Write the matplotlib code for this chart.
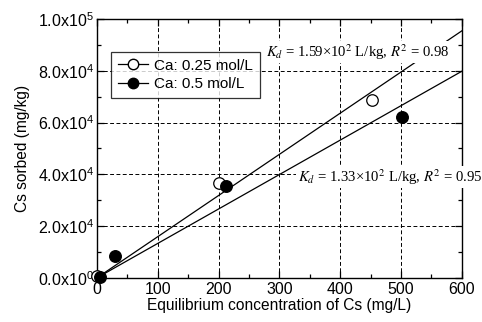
import matplotlib
matplotlib.use("Agg")
import matplotlib.pyplot as plt
import numpy as np
from matplotlib.lines import Line2D
from matplotlib.ticker import MultipleLocator, FixedLocator

plt.rcParams['font.family'] = ['Liberation Sans', 'DejaVu Sans']
plt.rcParams['mathtext.fontset'] = 'custom'
plt.rcParams['mathtext.rm'] = 'Liberation Sans'
plt.rcParams['mathtext.it'] = 'Liberation Sans:italic'

# Sorption data: equilibrium concentration (mg/L) vs. sorbed amount (mg/kg)
ce_025 = [0, 201, 452]
qe_025 = [800, 36800, 68700]
ce_05 = [5, 30, 212, 502]
qe_05 = [300, 8500, 35600, 62300]

# Linear isotherm fits (Kd in L/kg)
kd_025 = 1.59e2
kd_05 = 1.33e2
r2_025 = 0.98
r2_05 = 0.95

labels = ["Ca: 0.25 mol/L", "Ca: 0.5 mol/L"]
yticks = [0, 2e4, 4e4, 6e4, 8e4, 1e5]
ytick_labels = [r"$\mathregular{0.0x10^{0}}$", r"$\mathregular{2.0x10^{4}}$",
                r"$\mathregular{4.0x10^{4}}$", r"$\mathregular{6.0x10^{4}}$",
                r"$\mathregular{8.0x10^{4}}$", r"$\mathregular{1.0x10^{5}}$"]

fig = plt.figure(figsize=(4.82, 3.22), dpi=100)
ax = fig.add_axes([0.201, 0.137, 0.757, 0.804])

ax.set_xlim(0, 600)
ax.set_ylim(0, 1e5)

xfit = np.array([0, 600])
ax.plot(xfit, kd_025 * xfit, color='black', lw=0.9, zorder=2)
ax.plot(xfit, kd_05 * xfit, color='black', lw=0.9, zorder=2)

ax.plot(ce_025, qe_025, 'o', ms=8.3, mfc='white', mec='black', mew=0.9, ls='none', zorder=4, clip_on=False)
ax.plot(ce_05, qe_05, 'o', ms=8.3, mfc='black', mec='black', ls='none', zorder=4, clip_on=False)

ax.xaxis.set_major_locator(MultipleLocator(100))
ax.xaxis.set_minor_locator(MultipleLocator(50))
ax.yaxis.set_major_locator(FixedLocator(yticks))
ax.yaxis.set_minor_locator(MultipleLocator(1e4))
ax.set_yticklabels(ytick_labels)

ax.tick_params(which='both', direction='in', top=True, right=True, labelsize=11.5, width=0.9)
ax.tick_params(which='major', length=5)
ax.tick_params(which='minor', length=3)
ax.tick_params(axis='y', pad=2)
ax.tick_params(axis='x', pad=3)

ax.grid(True, which='major', color='black', ls=(0, (4, 2.5)), lw=0.7)
for s in ax.spines.values():
    s.set_linewidth(1.0)

ax.set_xlabel("Equilibrium concentration of Cs (mg/L)", fontsize=11.2, labelpad=1)
ax.set_ylabel("Cs sorbed (mg/kg)", fontsize=11.2, labelpad=6)

handles = [Line2D([], [], color='black', lw=0.9, marker='o', ms=7.5, mfc='white', mec='black'),
           Line2D([], [], color='black', lw=0.9, marker='o', ms=7.5, mfc='black', mec='black')]
leg = ax.legend(handles, labels, loc='upper left', bbox_to_anchor=(0.038, 0.873),
                frameon=True, fancybox=False, edgecolor='black', fontsize=11,
                handlelength=2.0, handletextpad=0.4, borderpad=0.45, labelspacing=0.3,
                borderaxespad=0)
leg.get_frame().set_linewidth(0.9)
leg.set_zorder(5)

txt_kw = dict(family='Liberation Serif', math_fontfamily='stix', fontsize=10.6,
              ha='center', va='center', zorder=6, clip_on=False,
              bbox=dict(facecolor='white', edgecolor='none', pad=1))
ax.text(429, 87200, r"$K_d$ = %.2f×10$^2$ L/kg, $R^2$ = %.2f" % (kd_025 / 100, r2_025), **txt_kw)
ax.text(482, 39000, r"$K_d$ = %.2f×10$^2$ L/kg, $R^2$ = %.2f" % (kd_05 / 100, r2_05), **txt_kw)

fig.savefig("out.png", dpi=100)
